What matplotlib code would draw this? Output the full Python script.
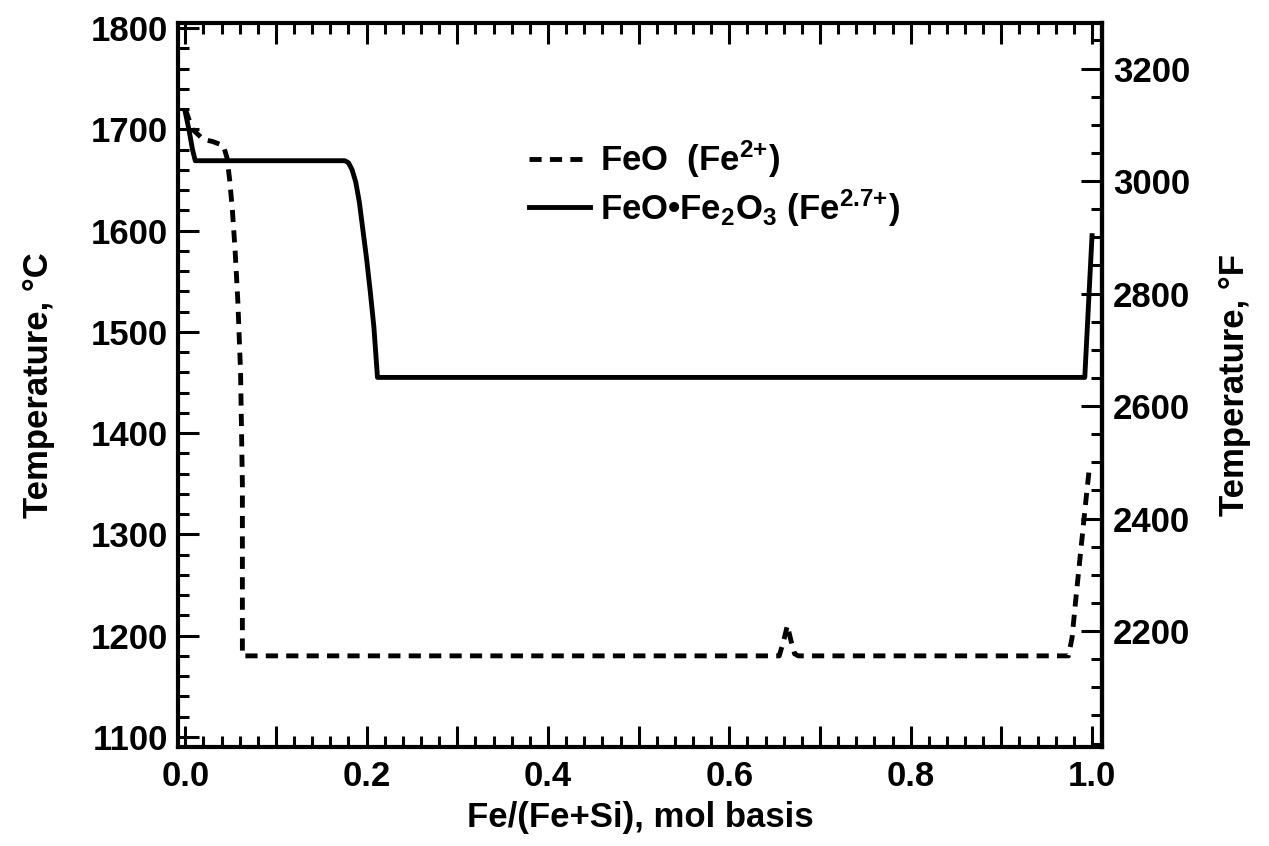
import matplotlib
matplotlib.use("Agg")
import matplotlib.pyplot as plt
from matplotlib.ticker import MultipleLocator, FuncFormatter, FixedLocator

plt.rcParams['font.family'] = ['Liberation Sans', 'DejaVu Sans']
plt.rcParams['font.weight'] = 'bold'
plt.rcParams['mathtext.fontset'] = 'custom'
plt.rcParams['mathtext.rm'] = 'Liberation Sans:bold'
plt.rcParams['mathtext.bf'] = 'Liberation Sans:bold'
plt.rcParams['mathtext.it'] = 'Liberation Sans:bold'

# FeO (Fe2+) liquidus, dashed
x_feo = [0.0, 0.008, 0.02, 0.03, 0.042, 0.046, 0.049, 0.052, 0.055, 0.058, 0.061, 0.063, 0.063,
         0.30, 0.50, 0.655, 0.660, 0.664, 0.668, 0.672, 0.676, 0.90, 0.974, 0.978, 0.982,
         0.986, 0.990, 0.994, 0.997]
t_feo = [1720, 1700, 1690, 1688, 1684, 1672, 1650, 1620, 1580, 1530, 1460, 1350, 1180,
         1180, 1180, 1180, 1195, 1210, 1195, 1182, 1180, 1180, 1180, 1198, 1235,
         1270, 1305, 1340, 1365]

# FeO.Fe2O3 (Fe2.7+) liquidus, solid
x_mag = [0.0, 0.004, 0.008, 0.011, 0.10, 0.176, 0.180, 0.184, 0.188, 0.192, 0.196, 0.200,
         0.204, 0.208, 0.210, 0.212, 0.50, 0.992, 0.996, 1.0]
t_mag = [1717, 1700, 1680, 1669, 1669, 1669, 1667, 1660, 1648, 1628, 1600, 1572,
         1540, 1505, 1480, 1455, 1455, 1455, 1525, 1595]

f_ticks = [2200, 2400, 2600, 2800, 3000, 3200]

label_feo = "FeO  (Fe$^{\\mathbf{2{+}}}$)"
label_mag = "FeO\u2022Fe$_{\\mathbf{2}}$O$_{\\mathbf{3}}$ (Fe$^{\\mathbf{2.7{+}}}$)"

fig = plt.figure(figsize=(12.69, 8.46), dpi=100)
ax = fig.add_axes([178/1269, 1-747/846, (1102-178)/1269, (747-23)/846])

ax.plot(x_feo, t_feo, color='black', lw=3.5, linestyle=(0, (2.5, 1.7)),
        dash_capstyle='butt', label=label_feo)
ax.plot(x_mag, t_mag, color='black', lw=3.5, solid_joinstyle='round', label=label_mag)

ax.set_xlim(-0.008, 1.011)
ax.set_ylim(1090, 1805)

fs = 25
ax.xaxis.set_major_locator(MultipleLocator(0.1))
ax.xaxis.set_minor_locator(MultipleLocator(0.02))
ax.xaxis.set_major_formatter(FuncFormatter(
    lambda v, p: f"{v:.1f}" if abs(round(v * 10)) % 2 == 0 else ""))
ax.yaxis.set_major_locator(MultipleLocator(100))
ax.yaxis.set_minor_locator(MultipleLocator(20))

ax.tick_params(which='both', direction='in', top=True, right=False, width=2.2,
               labelsize=fs, pad=7)
ax.tick_params(which='major', length=15)
ax.tick_params(which='minor', length=8)
ax.tick_params(axis='x', which='both', pad=9)
for lab in ax.get_xticklabels() + ax.get_yticklabels():
    lab.set_fontweight('bold')
for s in ax.spines.values():
    s.set_linewidth(3)

sec = ax.secondary_yaxis('right', functions=(lambda c: c * 9 / 5 + 32,
                                               lambda f: (f - 32) * 5 / 9))
sec.yaxis.set_major_locator(FixedLocator(f_ticks))
sec.yaxis.set_minor_locator(MultipleLocator(50))
sec.yaxis.set_major_formatter(FuncFormatter(lambda v, p: f"{v:.0f}"))
sec.tick_params(which='both', direction='in', width=2.2, labelsize=fs, pad=8)
sec.tick_params(which='major', length=15)
sec.tick_params(which='minor', length=8)
sec.spines['right'].set_linewidth(3)
for lab in sec.get_yticklabels():
    lab.set_fontweight('bold')

ax.set_xlabel("Fe/(Fe+Si), mol basis", fontsize=fs, fontweight='bold', labelpad=6)
ax.set_ylabel("Temperature, \u00b0C", fontsize=fs, fontweight='bold', labelpad=26)
sec.set_ylabel("Temperature, \u00b0F", fontsize=fs, fontweight='bold', labelpad=20)

leg = ax.legend(loc='upper left', bbox_to_anchor=(0.38, 0.84), frameon=False,
                fontsize=fs, handlelength=1.75, handletextpad=0.3, labelspacing=0.2,
                borderaxespad=0, borderpad=0)
for t in leg.get_texts():
    t.set_fontweight('bold')

fig.savefig("out.png", dpi=100)
